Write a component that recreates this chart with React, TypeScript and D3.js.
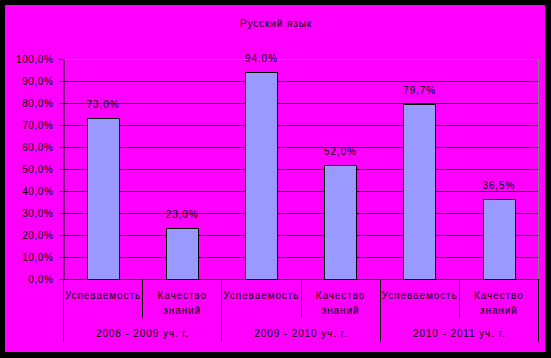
import React, { useEffect, useRef } from "react";
import * as d3 from "d3";

const title = "Русский язык";
const years = ["2008 - 2009 уч. г.", "2009 - 2010 уч. г.", "2010 - 2011 уч. г."];
const measures = ["Успеваемость", "Качество знаний"];
const values = [73.0, 23.0, 94.0, 52.0, 79.7, 36.5];
const yTicks = [0, 10, 20, 30, 40, 50, 60, 70, 80, 90, 100];

const fmt = (v: number) => v.toFixed(1).replace(".", ",") + "%";

export default function App() {
  const svgRef = useRef<SVGSVGElement>(null);

  useEffect(() => {
    const W = 551;
    const H = 358;
    const plot = { left: 63, right: 538, top: 59, bottom: 279 };
    const font = "'Liberation Sans', Arial, sans-serif";
    const fs = 10;
    const ls = 0.9;

    const svg = d3.select(svgRef.current);
    svg.selectAll("*").remove();
    svg.attr("width", W).attr("height", H);

    svg.append("rect").attr("width", W).attr("height", H).attr("fill", "#000");
    svg.append("rect").attr("x", 5).attr("y", 5).attr("width", 540).attr("height", 347).attr("fill", "#ff00ff");

    svg.append("text")
      .attr("x", 276).attr("y", 27)
      .attr("text-anchor", "middle")
      .attr("font-family", font).attr("font-size", fs).attr("letter-spacing", ls)
      .text(title);

    const cats = years.flatMap((y) => measures.map((m) => `${y}|${m}`));
    const x = d3.scaleBand().domain(cats).range([plot.left, plot.right]).paddingInner(0.6).paddingOuter(0.3);
    const step = (plot.right - plot.left) / cats.length;
    const y = d3.scaleLinear().domain([0, 100]).range([plot.bottom, plot.top]);

    // gridlines
    svg.append("g").selectAll("line").data(yTicks.filter((t) => t > 0 && t < 100)).enter()
      .append("line")
      .attr("x1", plot.left).attr("x2", plot.right)
      .attr("y1", (d) => Math.round(y(d)) + 0.5).attr("y2", (d) => Math.round(y(d)) + 0.5)
      .attr("stroke", "#000");

    // plot border (top/right gray)
    svg.append("path")
      .attr("d", `M${plot.left},${plot.top + 0.5}H${plot.right + 0.5}V${plot.bottom}`)
      .attr("fill", "none").attr("stroke", "#808080");

    // y axis
    const yAxis = svg.append("g").attr("transform", `translate(${plot.left + 0.5},0)`)
      .call(d3.axisLeft(y).tickValues(yTicks).tickSize(4).tickSizeOuter(0).tickPadding(6).tickFormat((d) => fmt(+d)));
    yAxis.select(".domain").attr("stroke", "#000");
    yAxis.selectAll("text").attr("font-family", font).attr("font-size", fs).attr("letter-spacing", 0.6).attr("fill", "#000");
    yAxis.selectAll(".tick line").attr("stroke", "#000");

    // bars
    svg.append("g").selectAll("rect").data(values).enter()
      .append("rect")
      .attr("x", (_, i) => Math.round(x(cats[i])!) + 0.5)
      .attr("width", Math.round(x.bandwidth()))
      .attr("y", (d) => Math.round(y(d)) + 0.5)
      .attr("height", (d) => plot.bottom - Math.round(y(d)))
      .attr("fill", "#9999ff").attr("stroke", "#000");

    // data labels
    svg.append("g").selectAll("text").data(values).enter()
      .append("text")
      .attr("x", (_, i) => x(cats[i])! + x.bandwidth() / 2 + ls / 2)
      .attr("y", (d) => y(d) - 10)
      .attr("text-anchor", "middle")
      .attr("font-family", font).attr("font-size", fs).attr("letter-spacing", ls)
      .attr("fill", "#000")
      .text((d) => fmt(d));

    // x axis line
    svg.append("line")
      .attr("x1", plot.left).attr("x2", plot.right + 1)
      .attr("y1", plot.bottom + 0.5).attr("y2", plot.bottom + 0.5)
      .attr("stroke", "#000");

    // category dividers
    const g = svg.append("g");
    for (let i = 0; i <= cats.length; i++) {
      const xx = Math.round(plot.left + i * step) + 0.5;
      const long = i % 2 === 0;
      g.append("line")
        .attr("x1", xx).attr("x2", xx)
        .attr("y1", plot.bottom).attr("y2", long ? 342 : 318)
        .attr("stroke", "#000");
    }

    // category labels
    cats.forEach((c, i) => {
      const cx = plot.left + (i + 0.5) * step + ls / 2;
      const words = c.split("|")[1].split(" ");
      const t = g.append("text")
        .attr("text-anchor", "middle")
        .attr("font-family", font).attr("font-size", fs).attr("letter-spacing", ls);
      words.forEach((w, k) => t.append("tspan").attr("x", cx).attr("y", 299 + k * 15).text(w));
    });

    years.forEach((yr, i) => {
      g.append("text")
        .attr("x", plot.left + (i * 2 + 1) * step + ls / 2)
        .attr("y", 337)
        .attr("text-anchor", "middle")
        .attr("font-family", font).attr("font-size", fs).attr("letter-spacing", ls)
        .text(yr);
    });
  }, []);

  return <svg ref={svgRef} style={{ position: "fixed", left: 0, top: 0 }}></svg>;
}
